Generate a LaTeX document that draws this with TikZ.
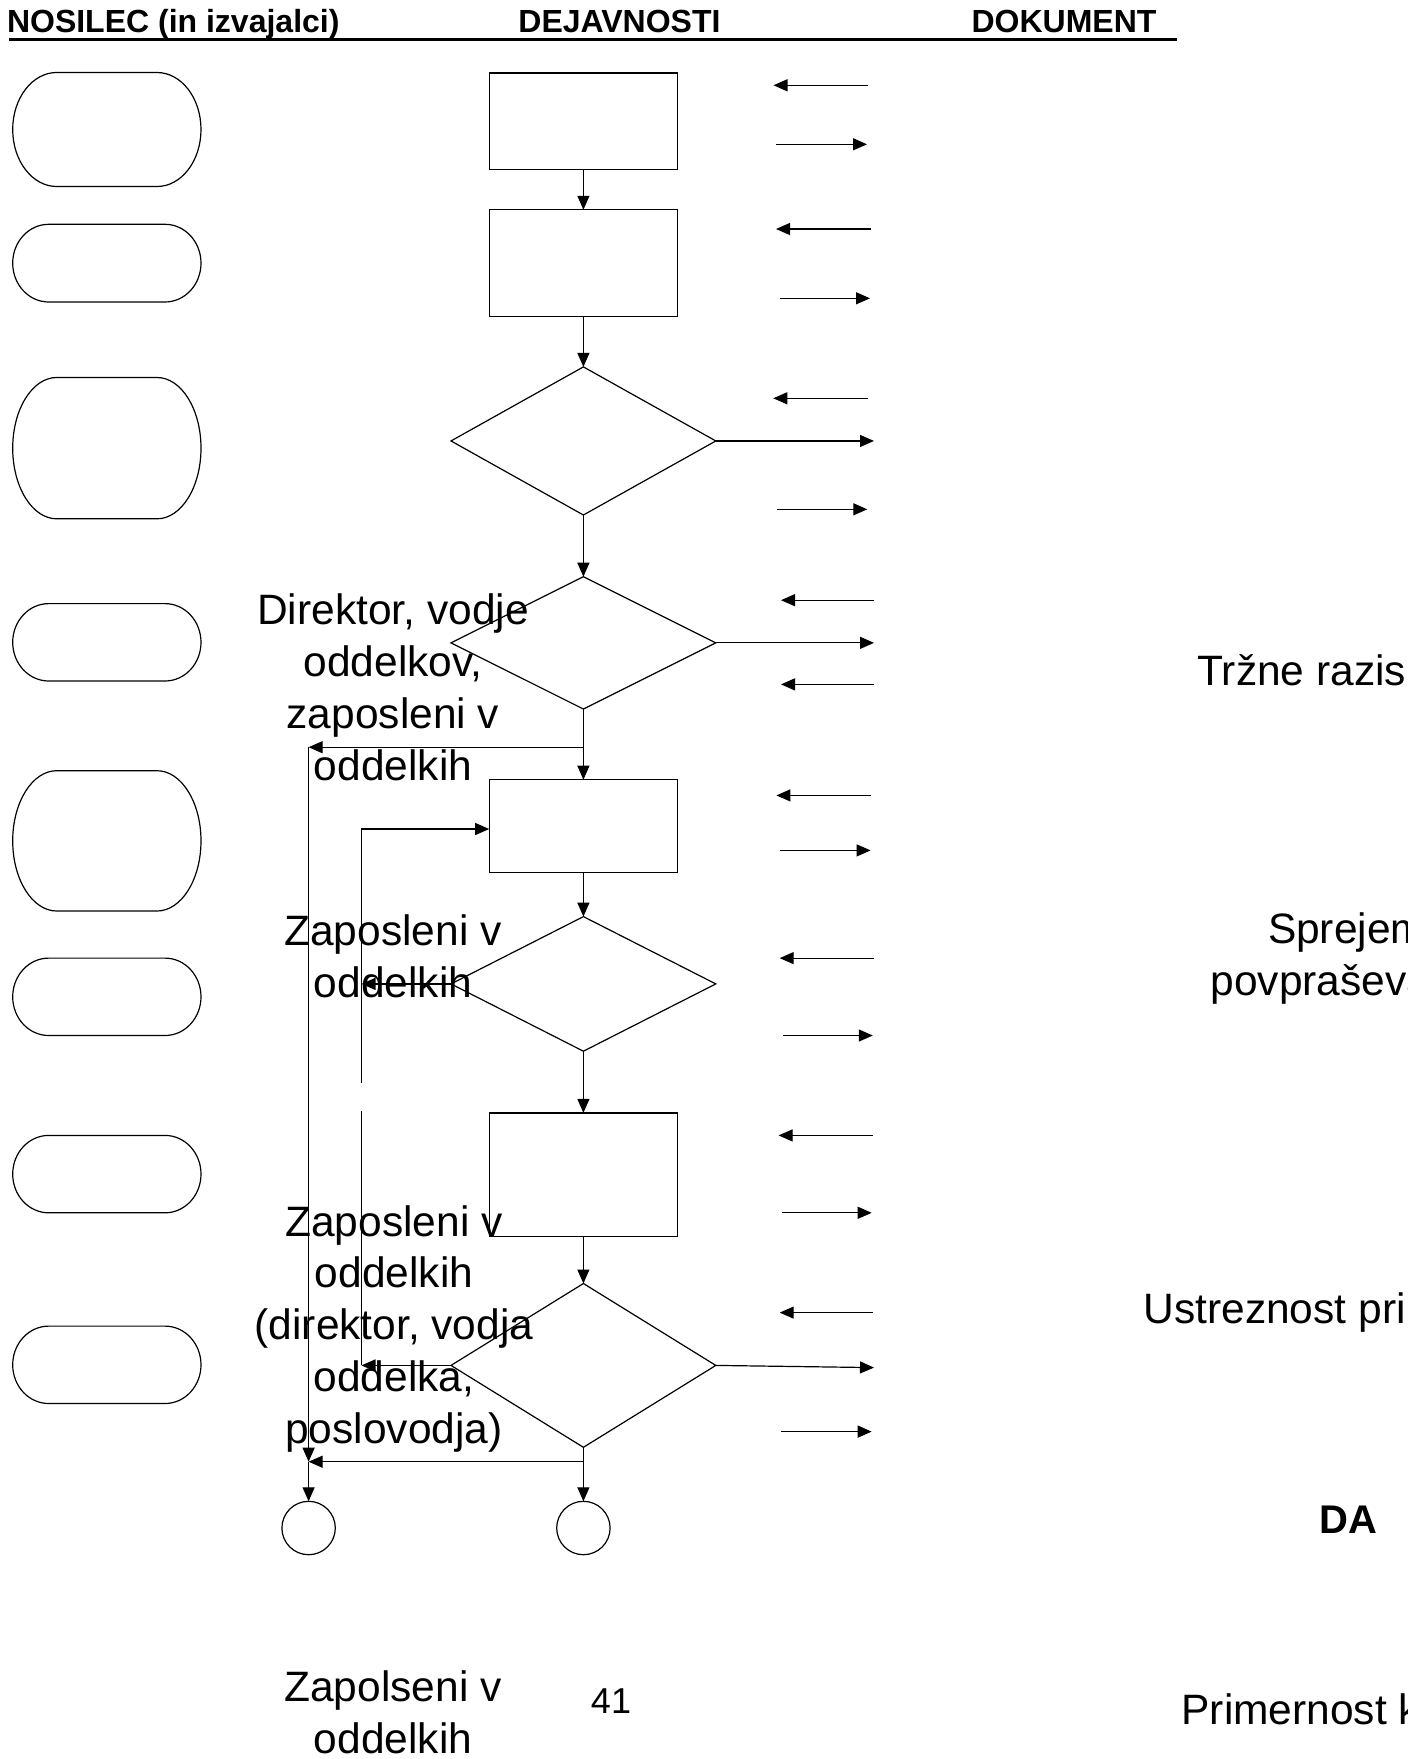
\documentclass[tikz,border=0pt]{standalone}
\usepackage{fontspec}
\setmainfont{Liberation Sans}
\usetikzlibrary{arrows.meta,shapes.geometric}

% holder outline: flat top and bottom with half-elliptic ends
% #1 name, #2 top, #3 bottom, #4 horizontal radius of the ends
\newcommand{\holder}[4]{%
  \node[holderbox, minimum height={(#3)-(#2)}] (#1) at (106.85,{-((#2)+(#3))/2}) {};
  \draw ([xshift=#4pt]#1.north west) -- ([xshift=-#4pt]#1.north east)
    arc[start angle=90, end angle=-90, x radius=#4, y radius={((#3)-(#2))/2}]
    -- ([xshift=#4pt]#1.south west)
    arc[start angle=270, end angle=90, x radius=#4, y radius={((#3)-(#2))/2}]
    -- cycle;
}

\begin{document}
\begin{tikzpicture}[x=1pt,y=1pt,
  line width=1.2pt,
  every node/.style={inner sep=0pt, outer sep=0pt},
  stepbox/.style={draw, rectangle, minimum width=188.4pt},
  choice/.style={draw, diamond, minimum width=264.8pt},
  endpoint/.style={draw, circle, minimum size=53.4pt},
  holderbox/.style={rectangle, minimum width=188.3pt},
  flow/.style={-{Triangle[length=14pt,width=12pt]}},
  % multi-line names: the base anchor sits on the last line
  roletext/.style={font=\fontsize{42.5}{51.8}\selectfont, align=center, anchor=base},
  heading/.style={font=\fontsize{32}{38}\selectfont\bfseries, anchor=base west},
  doctext/.style={font=\fontsize{42.5}{51.5}\selectfont, anchor=base west},
]
\useasboundingbox (0,0) rectangle (1408,-1759);
\clip (0,0) rectangle (1408,-1759);

% column headings
\node[heading] (h1) at (7,-32.5) {NOSILEC (in izvajalci)};
\node[heading] (h2) at (518.4,-32.5) {DEJAVNOSTI};
\node[heading] (h3) at (971.6,-32.5) {DOKUMENT};
\draw[line width=3pt] (9,-39.8) -- (1177,-39.8);

% holders (left column)
\holder{o1}{72.5}{186.5}{44}
\holder{o2}{224.3}{302}{36}
\holder{o3}{377.5}{518.8}{44}
\holder{o4}{603.6}{681}{36}
\holder{o5}{770.7}{911}{44}
\holder{o6}{958.1}{1035.5}{36}
\holder{o7}{1135.4}{1212.8}{36}
\holder{o8}{1326.1}{1403.5}{36}

% activities (middle column)
\node[stepbox, minimum height=96.5pt]  (r1) at (583.4,-121.15) {};
\node[stepbox, minimum height=106.6pt] (r2) at (583.4,-263.1) {};
\node[choice, minimum height=148.1pt]  (d1) at (583.4,-440.95) {};
\node[choice, minimum height=132.3pt]  (d2) at (583.4,-642.85) {};
\node[stepbox, minimum height=93.1pt]  (r3) at (583.4,-826.25) {};
\node[choice, minimum height=134.6pt]  (d3) at (583.4,-983.9) {};
\node[stepbox, minimum height=123.4pt] (r4) at (583.4,-1174.6) {};
\node[choice, minimum height=163.8pt]  (d4) at (583.4,-1365.4) {};
\node[endpoint] (c1) at (308.6,-1528) {};
\node[endpoint] (c2) at (583.4,-1528) {};

% junction points of the connectors
\coordinate (j2) at (583.4,-747.2);
\coordinate (l1) at (308.6,-747.2);
\coordinate (l2) at (308.6,-1461.7);
\coordinate (j4) at (583.4,-1461.7);
\coordinate (m1) at (361.5,-829);
\coordinate (m3) at (361.5,-983.9);
\coordinate (m4) at (361.5,-1365.4);
\coordinate (g1) at (361.5,-1110.7);
\coordinate (g2) at (361.5,-1082.6);

% main flow
\draw[flow] (r1) -- (r2);
\draw[flow] (r2) -- (d1);
\draw[flow] (d1) -- (d2);
\draw (d2.south) -- (j2);
\draw[flow] (j2) -- (r3.north);
\draw[flow] (j2) -- (l1);
\draw[flow] (l1) -- (l2);
\draw[flow] (r3) -- (d3);
\draw[flow] (d3) -- (r4);
\draw[flow] (r4) -- (d4);
\draw (d4.south) -- (j4);
\draw[flow] (j4) -- (l2);
\draw[flow] (j4) -- (c2.north);
\draw[flow] (l2) -- (c1.north);

% return loop
\draw[flow] (d3.west) -- (m3);
\draw[flow] (d4.west) -- (m4);
\draw (m4) -- (g1);
\draw[flow] (g2) -- (m1) -- (m1 -| r3.west);

% outputs of the decisions
\coordinate (e1) at (874,-440.95);
\coordinate (e2) at (874,-642.85);
\coordinate (e4) at (874,-1367.6);
\draw[flow] (d1.east) -- (e1);
\draw[flow] (d2.east) -- (e2);
\draw[flow] (d4.east) -- (e4);

% document arrows (right column)
\foreach \i/\y/\xa/\xb in {
  1/85.3/868.4/773.5, 2/144.3/776/867, 3/229/870.7/776, 4/298.3/780/870,
  5/398.3/868.3/773.3, 7/509.3/777.3/867.3, 8/600.2/874/781, 10/684.4/874/781,
  11/795.4/870.6/776.4, 12/850.4/779.7/870.6, 13/958.1/874/779.7,
  14/1035.5/783.1/872.8, 15/1135.4/872.8/778.6, 16/1212.8/782/871.7,
  17/1312.6/872.8/779.7, 19/1431.6/780.9/871.7} {
  \coordinate (da\i) at (\xa,-\y);
  \coordinate (db\i) at (\xb,-\y);
  \draw[flow] (da\i) -- (db\i);
}

% holder names
\node[roletext] (t1) at (393,-780) {Direktor, vodje\\oddelkov,\\zaposleni v\\oddelkih};
\node[roletext] (t2) at (393,-997) {Zaposleni v\\oddelkih};
\node[roletext] (t3) at (394,-1443.3) {Zaposleni v\\oddelkih\\(direktor, vodja\\oddelka,\\poslovodja)};
\node[roletext] (t4) at (393,-1753.3) {Zapolseni v\\oddelkih};

% page number
\node[font=\fontsize{36}{43}\selectfont, anchor=base] (pg) at (611,-1713) {41};

% documents
\node[doctext] (k1) at (1197.5,-685.7) {Tržne razis};
\node[doctext] (k2a) at (1268,-943.3) {Sprejem};
\node[doctext] (k2b) at (1210.5,-995) {povpraševa};
\node[doctext] (k3) at (1143.5,-1323.3) {Ustreznost pri};
\node[font=\fontsize{40}{48}\selectfont\bfseries, anchor=base] (k4) at (1348,-1533.3) {DA};
\node[doctext] (k5) at (1181.6,-1724) {Primernost k};
\end{tikzpicture}
\end{document}
